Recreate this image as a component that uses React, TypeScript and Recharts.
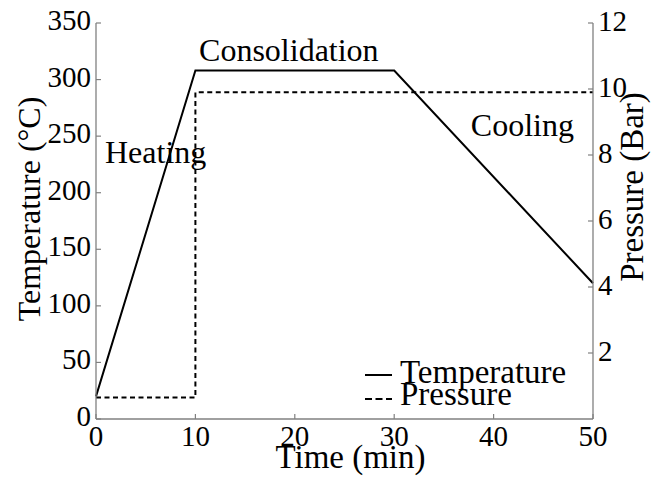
import React from 'react';
import { LineChart, Line, XAxis, YAxis, Legend, ReferenceDot } from 'recharts';

const timeTicks = [0, 10, 20, 30, 40, 50];
const temperatureTicks = [0, 50, 100, 150, 200, 250, 300, 350];
const pressureTicks = [2, 4, 6, 8, 10, 12];

const temperatureSeries = [
  { time: 0, value: 20 },
  { time: 10, value: 308 },
  { time: 30, value: 308 },
  { time: 50, value: 120 },
];

const pressureSeries = [
  { time: 0, value: 0.65 },
  { time: 10, value: 0.65 },
  { time: 10, value: 9.9 },
  { time: 50, value: 9.9 },
];

const phaseLabels = [
  { text: 'Heating', time: 6.0, temp: 226 },
  { text: 'Consolidation', time: 19.4, temp: 316 },
  { text: 'Cooling', time: 42.9, temp: 250 },
];

const legendOrder = ['Temperature', 'Pressure'];

const FONT = '"Liberation Serif", "DejaVu Serif", serif';
const AXIS = '#808080';
const TICK_LEN = 5;
const PRESSURE_DASH = '5 3.5';

const BottomTick = (props: any) => {
  const { x, y, payload } = props;
  return (
    <g>
      <line x1={x} y1={y} x2={x} y2={y - TICK_LEN} stroke={AXIS} strokeWidth={1.2} />
      <text x={x} y={y + 27} textAnchor="middle" fontSize={29} fontFamily={FONT} fill="#000">
        {payload.value}
      </text>
    </g>
  );
};

const TopTick = (props: any) => {
  const { x, y } = props;
  return <line x1={x} y1={y} x2={x} y2={y + TICK_LEN} stroke={AXIS} strokeWidth={1.2} />;
};

const LeftTick = (props: any) => {
  const { x, y, payload } = props;
  return (
    <g>
      <line x1={x} y1={y} x2={x + TICK_LEN} y2={y} stroke={AXIS} strokeWidth={1.2} />
      <text x={x - 5} y={y + 7} textAnchor="end" fontSize={29} fontFamily={FONT} fill="#000">
        {payload.value}
      </text>
    </g>
  );
};

const RightTick = (props: any) => {
  const { x, y, payload } = props;
  return (
    <g>
      <line x1={x} y1={y} x2={x - TICK_LEN} y2={y} stroke={AXIS} strokeWidth={1.2} />
      <text x={x + 5} y={y + 8} textAnchor="start" fontSize={29} fontFamily={FONT} fill="#000">
        {payload.value}
      </text>
    </g>
  );
};

const TempAxisLabel = (props: any) => {
  const { x, y, height } = props.viewBox;
  const cx = x + 40;
  const cy = y + height / 2 - 12;
  return (
    <text x={cx} y={cy} transform={`rotate(-90 ${cx} ${cy})`} textAnchor="middle" fontSize={32} fontFamily={FONT} fill="#000">
      Temperature (°C)
    </text>
  );
};

const PressureAxisLabel = (props: any) => {
  const { x, y, height } = props.viewBox;
  const cx = x + 50;
  const cy = y + height / 2 - 34;
  return (
    <text x={cx} y={cy} transform={`rotate(-90 ${cx} ${cy})`} textAnchor="middle" fontSize={33} fontFamily={FONT} fill="#000">
      Pressure (Bar)
    </text>
  );
};

const TimeAxisLabel = (props: any) => {
  const { x, y, width } = props.viewBox;
  return (
    <text x={x + width / 2 + 6} y={y + 49} textAnchor="middle" fontSize={33} fontFamily={FONT} fill="#000">
      Time (min)
    </text>
  );
};

const PhaseText = (text: string) => (props: any) => {
  const { x, y } = props.viewBox;
  return (
    <text x={x} y={y} textAnchor="middle" fontSize={32} fontFamily={FONT} fill="#000">
      {text}
    </text>
  );
};

const LegendContent = (props: any) => {
  const payload = [...(props.payload || [])].sort(
    (a: any, b: any) => legendOrder.indexOf(a.value) - legendOrder.indexOf(b.value)
  );
  return (
    <svg width={250} height={60} style={{ display: 'block' }}>
      {payload.map((entry: any, i: number) => {
        const dashed = entry.value === 'Pressure';
        return (
          <g key={i}>
            <line
              x1={5}
              x2={32}
              y1={20 + i * 24}
              y2={20 + i * 24}
              stroke="#000"
              strokeWidth={2}
              strokeDasharray={dashed ? '7 3.5' : undefined}
            />
            <text x={40} y={28 + i * 22} fontSize={33} fontFamily={FONT} fill="#000">
              {entry.value}
            </text>
          </g>
        );
      })}
    </svg>
  );
};

export default function App() {
  return (
    <div style={{ position: 'absolute', left: 0, top: 0, width: 651, height: 480, background: '#fff' }}>
      <LineChart width={651} height={480} margin={{ top: 23, right: 0, bottom: 0, left: 0 }}>
        <XAxis
          xAxisId="top"
          orientation="top"
          type="number"
          dataKey="time"
          domain={[0, 50]}
          ticks={timeTicks}
          height={0}
          tickSize={0}
          tickMargin={0}
          tickLine={false}
          interval={0}
          tick={<TopTick />}
          axisLine={{ stroke: AXIS, strokeWidth: 1.3 }}
        />
        <XAxis
          type="number"
          dataKey="time"
          domain={[0, 50]}
          ticks={timeTicks}
          height={61}
          tickSize={0}
          tickMargin={0}
          tickLine={false}
          interval={0}
          tick={<BottomTick />}
          axisLine={{ stroke: AXIS, strokeWidth: 1.3 }}
          label={TimeAxisLabel}
        />
        <YAxis
          yAxisId="temp"
          orientation="left"
          type="number"
          domain={[0, 350]}
          ticks={temperatureTicks}
          width={96}
          tickSize={0}
          tickMargin={0}
          tickLine={false}
          interval={0}
          tick={<LeftTick />}
          axisLine={{ stroke: AXIS, strokeWidth: 1.3 }}
          label={TempAxisLabel}
        />
        <YAxis
          yAxisId="pres"
          orientation="right"
          type="number"
          domain={[0, 12]}
          ticks={pressureTicks}
          width={58}
          tickSize={0}
          tickMargin={0}
          tickLine={false}
          interval={0}
          tick={<RightTick />}
          axisLine={{ stroke: AXIS, strokeWidth: 1.3 }}
          label={PressureAxisLabel}
        />
        <Line
          yAxisId="temp"
          data={temperatureSeries}
          dataKey="value"
          name="Temperature"
          type="linear"
          stroke="#000"
          strokeWidth={2}
          dot={false}
          activeDot={false}
          isAnimationActive={false}
        />
        <Line
          yAxisId="pres"
          data={pressureSeries}
          dataKey="value"
          name="Pressure"
          type="linear"
          stroke="#000"
          strokeWidth={2}
          strokeDasharray={PRESSURE_DASH}
          dot={false}
          activeDot={false}
          isAnimationActive={false}
        />
        {phaseLabels.map((p) => (
          <ReferenceDot
            key={p.text}
            yAxisId="temp"
            x={p.time}
            y={p.temp}
            r={0}
            fill="none"
            stroke="none"
            label={PhaseText(p.text)}
          />
        ))}
        <Legend
          layout="horizontal"
          verticalAlign="middle"
          align="center"
          itemSorter={null as any}
          content={LegendContent}
          wrapperStyle={{ position: 'absolute', left: 360, top: 355, width: 250, height: 60 }}
        />
      </LineChart>
    </div>
  );
}
